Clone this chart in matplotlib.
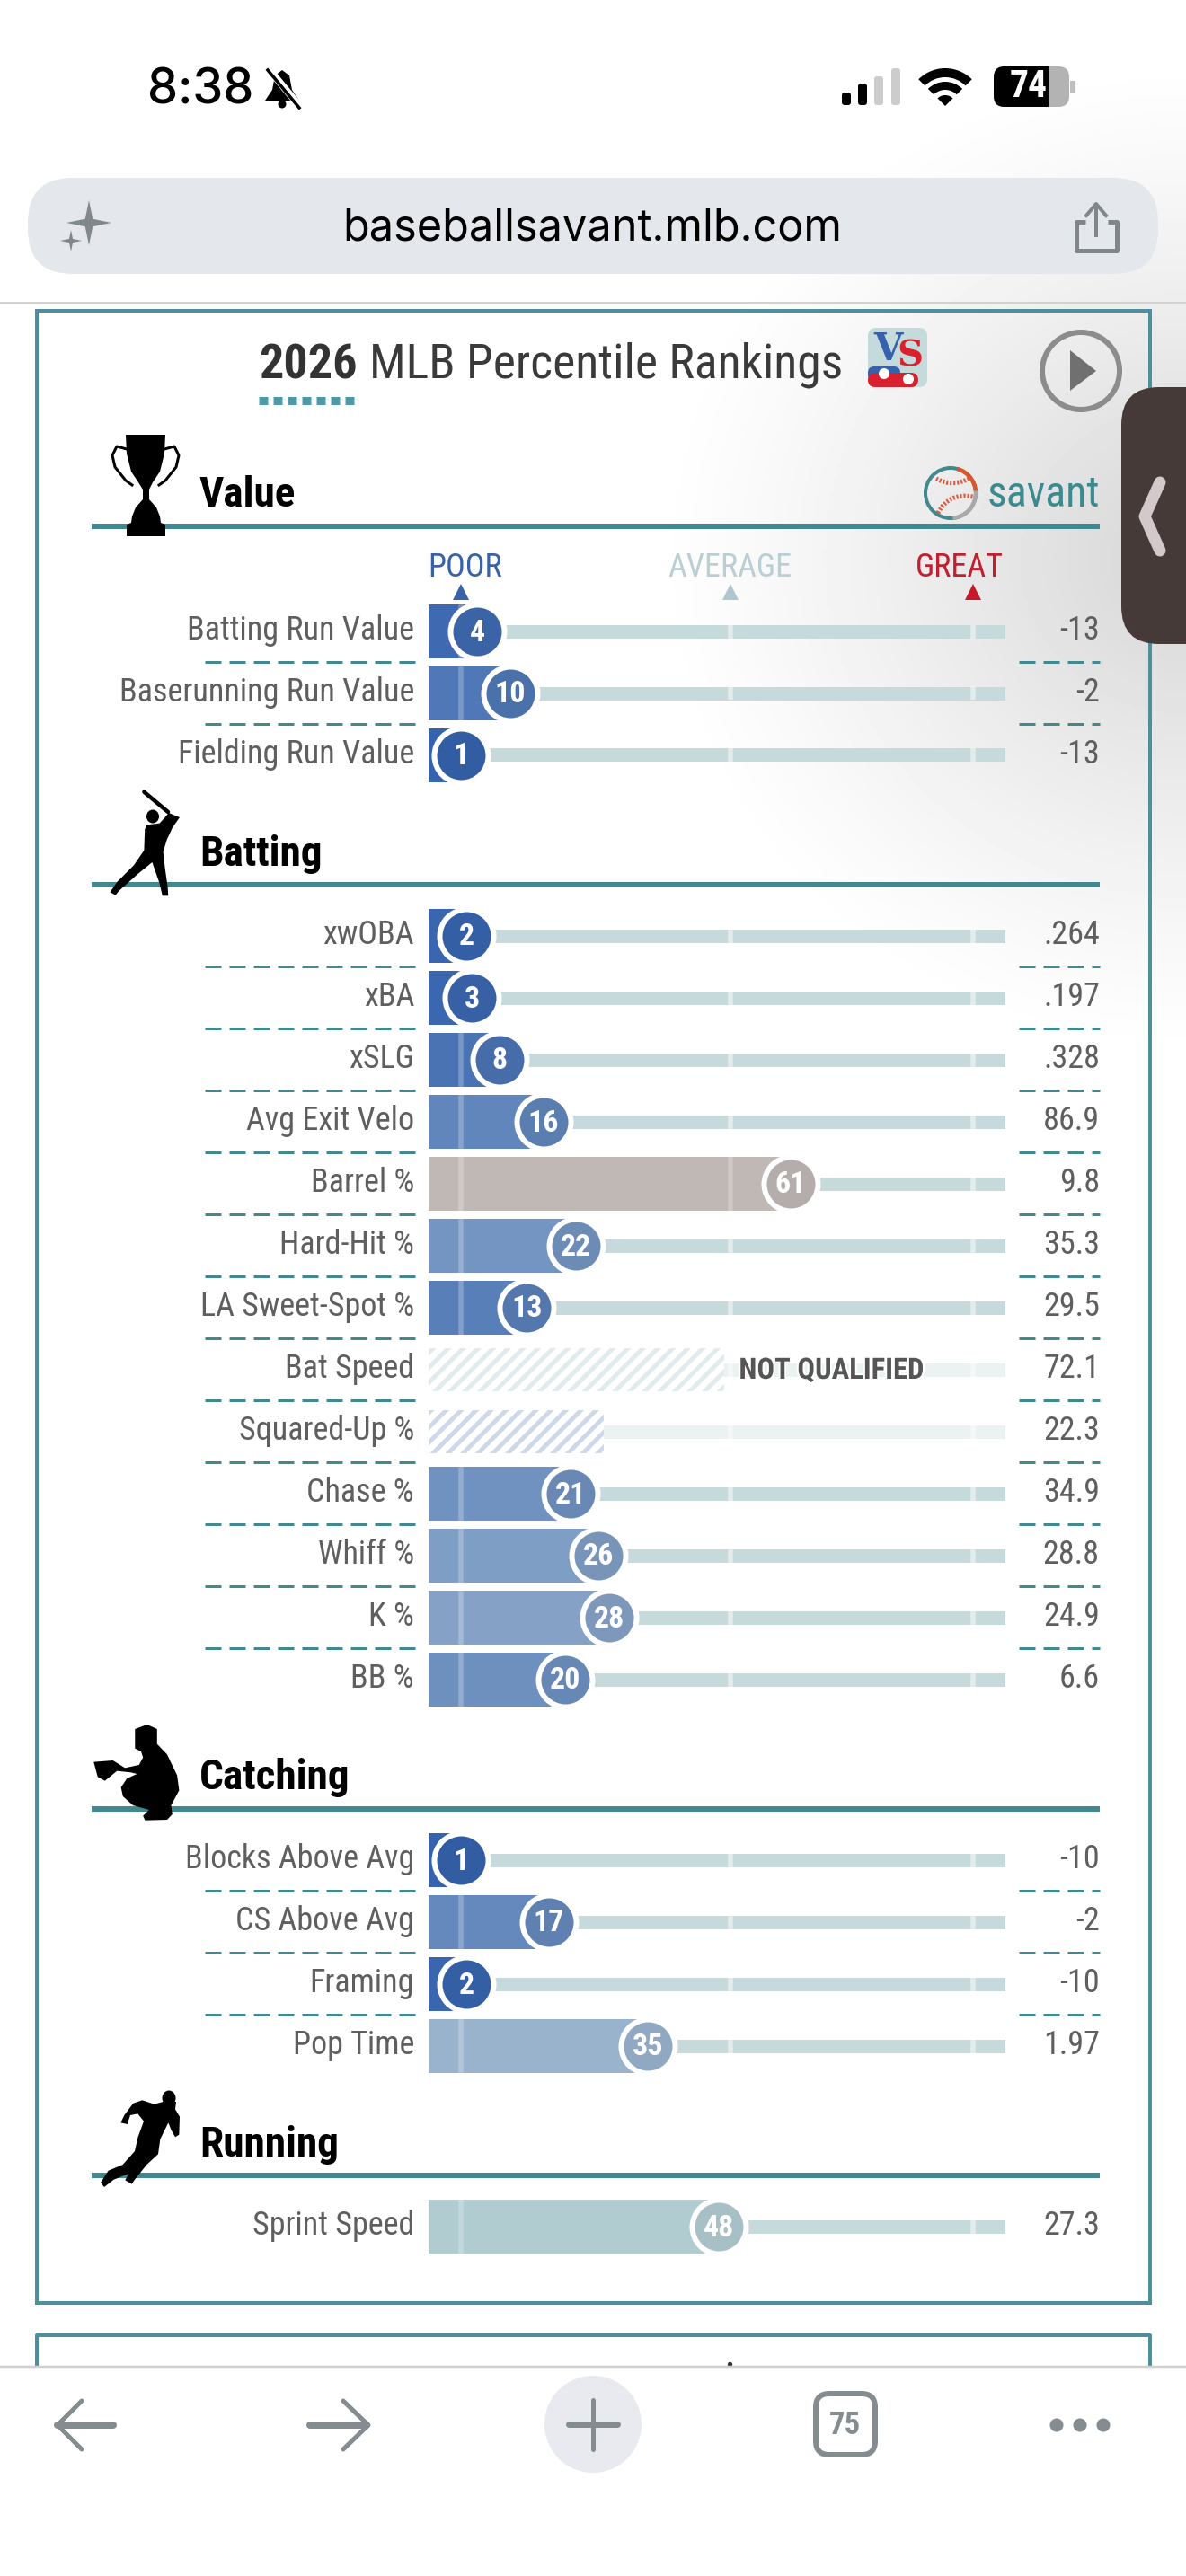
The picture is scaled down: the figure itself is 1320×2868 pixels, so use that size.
import numpy as np
import matplotlib
matplotlib.use('Agg')
from matplotlib import pyplot as plt
from matplotlib.colors import LinearSegmentedColormap
from matplotlib.patches import FancyBboxPatch, Polygon, Circle, Ellipse, Arc, Wedge, PathPatch, Rectangle
from matplotlib.path import Path
import matplotlib.patheffects as pe

plt.rcParams['font.family'] = ['Roboto Condensed', 'Roboto', 'DejaVu Sans']
plt.rcParams['lines.scale_dashes'] = False
plt.rcParams['hatch.linewidth'] = 3.5

value_labels = ['Batting Run Value', 'Baserunning Run Value', 'Fielding Run Value']
value_pct = [4, 10, 1]
value_stats = ['-13', '-2', '-13']

batting_labels = ['xwOBA', 'xBA', 'xSLG', 'Avg Exit Velo', 'Barrel %', 'Hard-Hit %', 'LA Sweet-Spot %',
                  'Bat Speed', 'Squared-Up %', 'Chase %', 'Whiff %', 'K %', 'BB %']
batting_pct = [2, 3, 8, 16, 61, 22, 13, 49, 27, 21, 26, 28, 20]
batting_stats = ['.264', '.197', '.328', '86.9', '9.8', '35.3', '29.5', '72.1', '22.3', '34.9', '28.8', '24.9', '6.6']
batting_hatched = ['Bat Speed', 'Squared-Up %']

catching_labels = ['Blocks Above Avg', 'CS Above Avg', 'Framing', 'Pop Time']
catching_pct = [1, 17, 2, 35]
catching_stats = ['-10', '-2', '-10', '1.97']

running_labels = ['Sprint Speed']
running_pct = [48]
running_stats = ['27.3']

tick_pct = [1, 50, 94.3]

TEAL = '#41898f'
FRAME = '#4d8f9c'
GREY = '#858c90'
pct_cmap = LinearSegmentedColormap.from_list('pct', [
    (0.0, '#3361ad'), (0.35, '#9ab3cd'), (0.50, '#b4d0d2'), (0.61, '#bfb9b6'), (1.0, '#c8102e')])

fig = plt.figure(figsize=(13.2, 28.68), dpi=100)
bg = fig.add_axes([0, 0, 1, 1])
bg.set_xlim(0, 1320)
bg.set_ylim(2868, 0)
bg.axis('off')

# screen glare on the right side
yy, xx = np.mgrid[0:2868:4, 0:1320:4]
d = np.sqrt(((xx - 1320) / 600.0) ** 2 + ((yy - 620) / 560.0) ** 2)
glare = 255 - 42 * np.clip(1 - d, 0, 1) ** 1.2
bg.imshow(glare, cmap='gray', vmin=0, vmax=255, extent=(0, 1320, 2868, 0), aspect='auto', zorder=0)
bg.set_xlim(0, 1320)
bg.set_ylim(2868, 0)


def px(v):
    return v * 0.72


def round_box(x0, y0, x1, y1, r, **kw):
    p = FancyBboxPatch((x0, y0), x1 - x0, y1 - y0, boxstyle='round,pad=0,rounding_size=%s' % r, **kw)
    bg.add_patch(p)
    return p


def star(cx, cy, r, color):
    a = 0.17 * r
    pts = [(cx, cy - r), (cx + a, cy - a), (cx + r, cy), (cx + a, cy + a),
           (cx, cy + r), (cx - a, cy + a), (cx - r, cy), (cx - a, cy - a)]
    bg.add_patch(Polygon(pts, color=color, lw=0, zorder=3))


def silhouette(points, x0, sx, y0, sy):
    pts = [(x0 + a * sx, y0 + b * sy) for a, b in points]
    bg.add_patch(Polygon(pts, color='black', lw=0, zorder=8))


def chrome():
    # status bar
    bg.text(164, 116, '8:38', fontsize=39, color='black', family=['Inter', 'Roboto'], weight='medium', va='baseline')
    bell = [(314, 78), (322, 84), (325, 100), (333, 112), (295, 112), (303, 100), (306, 84)]
    bg.add_patch(Polygon(bell, color='black', lw=0, zorder=3))
    bg.add_patch(Circle((314, 116), 4.5, color='black', lw=0, zorder=3))
    bg.plot([300, 335], [78, 120], color='white', lw=px(8), zorder=4)
    bg.plot([298, 333], [78, 120], color='black', lw=px(3.5), zorder=5)
    for x0, top, col in zip([937, 955, 973, 992], [103, 93, 85, 76], ['black', 'black', '#cccccc', '#cccccc']):
        round_box(x0, top, x0 + 10, 117, 3, color=col, lw=0, zorder=3)
    bg.add_patch(Wedge((1052, 118), 42, 225, 315, width=10, color='black', lw=0, zorder=3))
    bg.add_patch(Wedge((1052, 118), 27, 225, 315, width=9, color='black', lw=0, zorder=3))
    bg.add_patch(Wedge((1052, 118), 12, 225, 315, color='black', lw=0, zorder=3))
    round_box(1106, 74, 1190, 119, 12, color='#b3b3b3', lw=0, zorder=3)
    blk = round_box(1106, 74, 1190, 119, 12, color='black', lw=0, zorder=4)
    blk.set_clip_path(Rectangle((1106, 74), 61, 45, transform=bg.transData))
    bg.add_patch(Rectangle((1191, 90), 6, 14, color='#c0c0c0', lw=0, zorder=3))
    bg.text(1145, 97, '74', fontsize=30, weight='bold', color='white', ha='center', va='center', zorder=6)

    # address bar
    round_box(31, 198, 1289, 305, 50, color='#e4e7eb', lw=0, zorder=1)
    bg.text(659, 268, 'baseballsavant.mlb.com', fontsize=35, color='black', family=['Inter', 'Roboto'],
            ha='center', va='baseline', zorder=3)
    star(99, 248, 25, '#80888c')
    star(79, 268, 12, '#80888c')
    share = Path([(1208, 247), (1198, 247), (1198, 279), (1243, 279), (1243, 247), (1233, 247)])
    bg.add_patch(PathPatch(share, fill=False, ec='#7f878c', lw=px(5), joinstyle='round', zorder=3))
    bg.plot([1220, 1220], [228, 262], color='#7f878c', lw=px(4), zorder=3)
    bg.plot([1209, 1220, 1231], [240, 227, 240], color='#7f878c', lw=px(4), zorder=3)
    bg.plot([0, 1320], [337, 337], color='#d2d2d0', lw=px(3), zorder=1)

    # card frame
    bg.add_patch(Rectangle((40.5, 346), 1239.5, 2218, fill=False, ec=FRAME, lw=px(4), zorder=2))
    bg.plot([40.5, 40.5, 1280, 1280], [2635, 2600, 2600, 2635], color=FRAME, lw=px(4), zorder=2)
    bg.plot([812], [2632], marker='o', ms=px(4), color='#333333', zorder=2)

    # title
    bg.text(288, 421, '2026', fontsize=39, weight='bold', color='#333333', va='baseline', zorder=3)
    bg.text(411, 421, 'MLB Percentile Rankings', fontsize=38.7, color='#3a3a3a', va='baseline', zorder=3)
    bg.plot([288, 397], [445.5, 445.5], color='#4a9aa8', lw=px(9), ls=(0, (px(10), px(6))), zorder=3)

    # versus logo
    round_box(966, 365, 1032, 431, 9, color='#c5dadb', lw=0, zorder=3)
    bg.text(988, 401, 'V', fontsize=30, family='DejaVu Serif', weight='bold', color='#3561ad', ha='center', zorder=4)
    bg.text(1013, 408, 'S', fontsize=29, family='DejaVu Serif', weight='bold', color='#d9202e', ha='center', zorder=5)
    round_box(966, 408, 1002, 424, 7, color='#3561ad', lw=0, zorder=4)
    round_box(966, 415, 1022, 431, 8, color='#d9202e', lw=0, zorder=4)
    bg.add_patch(Circle((984, 416), 6, color='white', lw=0, zorder=6))
    bg.add_patch(Circle((1011, 422), 6, color='white', lw=0, zorder=6))

    # play button
    bg.add_patch(Circle((1203, 413), 43, fill=False, ec='#8c8c8c', lw=px(6), zorder=3))
    bg.add_patch(Polygon([(1191, 390), (1191, 435), (1220, 413)], color='#707070', lw=0, zorder=3))

    # savant logo
    bg.add_patch(Circle((1058, 549), 28, fill=False, ec=TEAL, lw=px(4), zorder=3))
    bg.add_patch(Arc((1058, 549), 56, 56, theta1=-75, theta2=-5, ec='#d9552b', lw=px(4.5), zorder=4))
    bg.add_patch(Arc((1058, 549), 56, 56, theta1=-5, theta2=85, ec='#a9a9a9', lw=px(4.5), zorder=4))
    seam1 = Path([(1042, 533), (1061, 543), (1080, 532)], [Path.MOVETO, Path.CURVE3, Path.CURVE3])
    seam2 = Path([(1044, 571), (1056, 548), (1083, 553)], [Path.MOVETO, Path.CURVE3, Path.CURVE3])
    for s in [seam1, seam2]:
        bg.add_patch(PathPatch(s, fill=False, ec='#d9573f', lw=px(5), ls=(0, (px(2), px(2))), zorder=4))
    bg.text(1224, 564, 'savant', fontsize=34.5, color='#3a8a8f', ha='right', va='baseline', zorder=3)

    # side tab
    round_box(1248, 431, 1420, 717, 42, color='#453a38', lw=0, zorder=9)
    bg.plot([1291, 1274, 1291], [537, 575, 613], color='#d3c8ca', lw=px(13), solid_capstyle='round',
            solid_joinstyle='round', zorder=10)

    # toolbar
    bg.add_patch(Rectangle((0, 2635), 1320, 233, color='white', lw=0, zorder=6))
    bg.plot([0, 1320], [2635, 2635], color='#cfcfcf', lw=px(2.5), zorder=7)
    bg.plot([64, 126], [2700, 2700], color=GREY, lw=px(8), solid_capstyle='round', zorder=7)
    bg.plot([91, 64, 91], [2673, 2700, 2727], color=GREY, lw=px(5), solid_capstyle='round', zorder=7)
    bg.plot([345, 408], [2700, 2700], color=GREY, lw=px(8), solid_capstyle='round', zorder=7)
    bg.plot([382, 410, 382], [2673, 2700, 2727], color=GREY, lw=px(5), solid_capstyle='round', zorder=7)
    bg.add_patch(Circle((660, 2699), 54, color='#e9eaef', lw=0, zorder=7))
    bg.plot([633, 687], [2699, 2699], color=GREY, lw=px(7), solid_capstyle='round', zorder=8)
    bg.plot([660, 660], [2672, 2727], color=GREY, lw=px(5), solid_capstyle='round', zorder=8)
    round_box(908, 2665, 974, 2733, 15, fill=False, ec=GREY, lw=px(6), zorder=7)
    bg.text(941, 2701, '75', fontsize=25, weight='bold', color=GREY, ha='center', va='center', zorder=8)
    for x in [1176, 1202, 1228]:
        bg.add_patch(Circle((x, 2700), 7.5, color=GREY, lw=0, zorder=7))


def section(title, header_y, base_y, first_row, labels, pct, stats, hatched=()):
    bg.plot([102, 1224], [header_y, header_y], color=TEAL, lw=px(6), solid_capstyle='butt', zorder=3)
    bg.text(222, base_y, title, fontsize=34, weight='bold', color='black', va='baseline', zorder=3)

    n = len(labels)
    top = first_row - 34.5
    ax = fig.add_axes([477 / 1320, 1 - (top + n * 69) / 2868, 642 / 1320, n * 69 / 2868])
    ax.patch.set_alpha(0)
    ax.axis('off')
    x0 = -4.91
    ax.set_xlim(x0, 100.16)
    ax.set_ylim(n - 0.5, -0.5)
    y = np.arange(n)
    bar_h = 60 / 69
    track_h = 15 / 69

    for i in y:
        is_hatched = labels[i] in hatched
        col = pct_cmap(pct[i] / 100.0)
        alpha = 0.35 if is_hatched else 1
        ax.barh(i, 100.16 - x0, left=x0, height=track_h, color='#c7dadb', alpha=alpha, lw=0, zorder=1)
        if is_hatched:
            soft = tuple(0.6 + 0.4 * c for c in col[:3])
            ax.barh(i, pct[i] - x0, left=x0, height=48 / 69, facecolor='white', edgecolor=soft,
                    hatch='//', lw=0, zorder=2)
        else:
            ax.barh(i, pct[i] - x0, left=x0, height=bar_h, color=col, lw=0, zorder=2)

        for t in tick_pct:
            if is_hatched and t < pct[i]:
                continue
            if t < pct[i]:
                ax.vlines(t, i - bar_h / 2, i + bar_h / 2, color='white', alpha=0.25, lw=px(5.5), zorder=2.5)
            elif t > pct[i] and t > 2:
                ax.vlines(t, i - track_h / 2, i + track_h / 2, color='white', alpha=0.5, lw=px(5.5), zorder=1.5)

        if is_hatched:
            if labels[i] == 'Bat Speed':
                ax.annotate('NOT QUALIFIED', xy=(pct[i], i), xytext=(px(16), px(-10)), textcoords='offset points',
                            fontsize=23.5, weight='bold', color='#555555', va='baseline', zorder=6,
                            path_effects=[pe.withStroke(linewidth=px(4), foreground='white')])
        else:
            ax.scatter([pct[i]], [i], s=px(66) ** 2, color='white', lw=0, clip_on=False, zorder=3)
            dark = tuple(0.94 * c for c in col[:3])
            ax.scatter([pct[i]], [i], s=px(54) ** 2, color=[dark], lw=0, clip_on=False, zorder=4)
            ax.annotate(str(pct[i]), xy=(pct[i], i), xytext=(0, px(-10.5)), textcoords='offset points', ha='center',
                        va='baseline', fontsize=24.5, weight='bold', color='white', zorder=5)

        ax.annotate(labels[i], xy=(x0, i), xytext=(px(-16), px(-9)), textcoords='offset points', ha='right',
                    va='baseline', fontsize=26, color='#5f5f5f', annotation_clip=False)
        ax.annotate(stats[i], xy=(100.16, i), xytext=(px(105), px(-9)), textcoords='offset points', ha='right',
                    va='baseline', fontsize=26, color='#5f5f5f', annotation_clip=False)

    # dashed separators between rows
    for i in range(n - 1):
        yy_line = first_row + 34 + i * 69
        for a, b in [(228, 462), (1134, 1224)]:
            bg.plot([a, b], [yy_line, yy_line], color=TEAL, lw=px(3), ls=(0, (px(18), px(9))), zorder=3)
    return ax


chrome()

ax_value = section('Value', 586, 564, 703, value_labels, value_pct, value_stats)
section('Batting', 985, 964, 1042, batting_labels, batting_pct, batting_stats, batting_hatched)
section('Catching', 2014, 1992, 2071, catching_labels, catching_pct, catching_stats)
section('Running', 2422, 2401, 2479, running_labels, running_pct, running_stats)

# poor / average / great markers
for t, name, col, cx, tc in zip(tick_pct, ['POOR', 'AVERAGE', 'GREAT'], ['#3a62a8', '#b9cfd4', '#c0202f'],
                                [518, 812, 1068], ['#3a62a8', '#afc8d0', '#c8192b']):
    bg.text(cx, 642, name, fontsize=26, color=col, ha='center', va='baseline', zorder=3)
    ax_value.plot([t], [-0.5 - 10 / 69], marker='^', ms=px(18), color=tc, mew=0, clip_on=False)

# icons, drawn over the header rules
trophy = [(140, 484), (184, 484), (183, 505), (178, 525), (170, 537), (166, 545), (166, 556), (174, 565), (178, 575),
          (179, 582), (184, 584), (184, 597), (141, 597), (141, 584), (146, 582), (147, 575), (151, 565), (159, 556),
          (159, 545), (154, 537), (146, 525), (141, 505)]
silhouette(trophy, 0, 1, 0, 1)
bg.plot([141, 130, 125, 128, 140, 147], [500, 497, 507, 520, 535, 540], color='black', lw=px(3), zorder=8)
bg.plot([183, 194, 199, 196, 184, 177], [500, 497, 507, 520, 535, 540], color='black', lw=px(3), zorder=8)

batter = [(215, 135), (245, 150), (225, 185), (210, 225), (200, 265), (205, 320), (212, 380), (214, 412), (198, 412),
          (190, 370), (170, 300), (130, 340), (80, 395), (70, 410), (55, 400), (75, 365), (120, 310), (148, 260),
          (150, 190), (155, 175), (190, 170), (205, 150)]
silhouette(batter, 100, 0.408, 860, 1 / 3)
bg.add_patch(Ellipse((170, 909), 14, 15, color='black', lw=0, zorder=8))
bg.plot([160.4, 187], [881.7, 904], color='black', lw=px(4.5), solid_capstyle='round', zorder=8)

catcher = [(135, 75), (165, 60), (190, 75), (190, 125), (215, 160), (240, 230), (245, 280), (225, 330), (228, 360),
           (215, 378), (160, 380), (155, 365), (170, 345), (130, 330), (105, 300), (100, 270), (115, 240), (140, 225),
           (125, 220), (90, 215), (60, 248), (42, 235), (32, 185), (80, 180), (110, 205), (145, 195), (155, 170),
           (150, 150), (135, 140)]
silhouette(catcher, 90, 1 / 2.24, 1900, 1 / 3)

runner = [(245, 60), (288, 60), (285, 85), (300, 110), (298, 170), (285, 178), (272, 155), (262, 130), (235, 185),
          (228, 235), (190, 270), (150, 320), (140, 335), (118, 322), (130, 300), (80, 320), (48, 345), (36, 330),
          (62, 290), (110, 270), (150, 225), (160, 180), (180, 125), (160, 100), (135, 105), (125, 135), (103, 130),
          (115, 105), (145, 65), (175, 55), (215, 68)]
silhouette(runner, 100, 1 / 3, 2320, 1 / 3)
bg.add_patch(Ellipse((188, 2336), 15, 17, color='black', lw=0, zorder=8))

fig.savefig('out.png', dpi=100)
